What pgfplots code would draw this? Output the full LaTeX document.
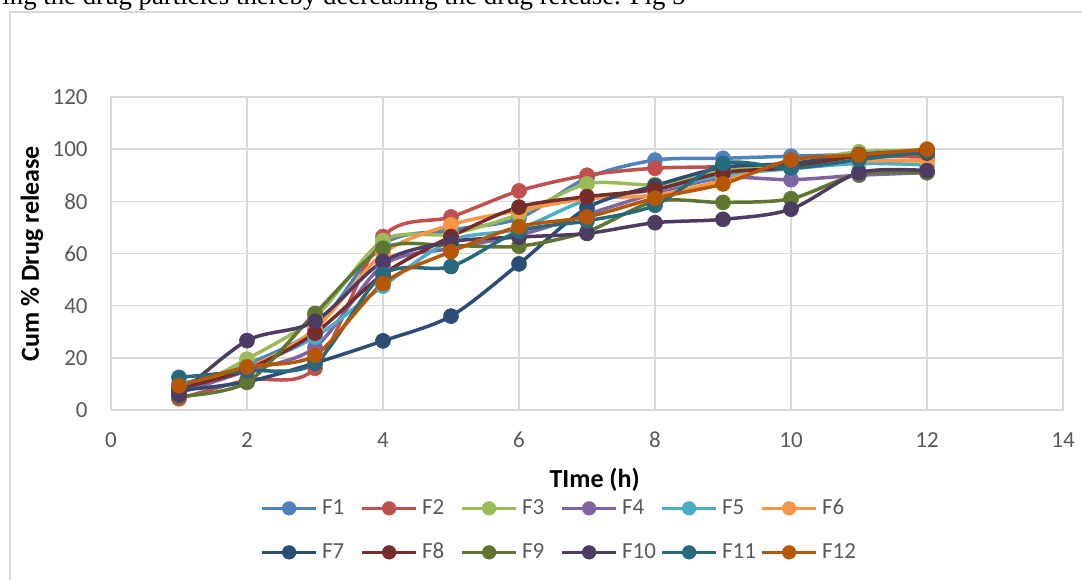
\documentclass[border=0pt]{standalone}
\usepackage{fontspec}
\setmainfont{Carlito}
\newfontfamily\timesfont{Liberation Serif}
\usepackage{pgfplots}
\usepackage{pgfplotstable}
\pgfplotsset{compat=1.18}
\definecolor{c1}{HTML}{4F81BD}
\definecolor{c2}{HTML}{C0504D}
\definecolor{c3}{HTML}{9BBB59}
\definecolor{c4}{HTML}{8064A2}
\definecolor{c5}{HTML}{4BACC6}
\definecolor{c6}{HTML}{F79646}
\definecolor{c7}{HTML}{2C4D75}
\definecolor{c8}{HTML}{772C2A}
\definecolor{c9}{HTML}{5F7530}
\definecolor{c10}{HTML}{4D3B62}
\definecolor{c11}{HTML}{276A7C}
\definecolor{c12}{HTML}{B65708}
\definecolor{gridc}{HTML}{D9D9D9}
\definecolor{txtc}{HTML}{595959}

\pgfplotstableread{
x F1 F2 F3 F4 F5 F6 F7 F8 F9 F10 F11 F12
1 7.0 4.3 6.0 6.5 10.0 8.5 7.5 8.3 5.2 5.8 12.5 9.3
2 17.5 11.5 19.5 15.0 16.5 16.0 10.8 15.5 10.6 26.6 15.0 16.5
3 31.0 16.0 35.5 24.0 28.0 31.0 18.0 29.5 37.0 34.0 18.0 21.0
4 63.5 66.5 65.0 55.5 47.5 60.0 26.5 52.0 62.0 57.0 52.0 48.5
5 69.0 74.0 67.5 62.0 65.0 71.0 36.0 66.5 63.0 64.5 55.0 60.7
6 73.5 84.0 75.0 67.0 69.5 76.5 56.0 77.8 62.8 66.3 68.5 70.3
7 89.0 90.0 86.7 75.0 80.5 81.0 77.5 81.8 68.4 67.7 72.5 74.0
8 95.8 92.7 86.5 83.0 84.4 82.4 86.0 84.6 80.0 71.8 78.5 81.2
9 96.5 93.3 91.5 89.0 90.0 88.0 93.0 91.0 79.6 73.1 94.5 86.7
10 97.3 94.5 95.0 88.3 92.5 94.5 94.5 93.0 81.0 77.0 92.7 95.9
11 98.0 97.0 99.0 90.0 94.5 95.5 98.0 97.5 90.5 91.0 96.0 97.8
12 98.5 97.0 99.5 91.0 94.0 95.5 99.5 98.5 91.0 91.8 99.0 100.0
}\datatable

\newcommand{\lentry}[1]{\makebox[21.25pt][l]{\hspace{2.1pt}#1}}

\begin{document}
\begin{tikzpicture}
\path[use as bounding box] (0pt,0pt) rectangle (541pt,289.5pt);
\draw[gridc, line width=0.75pt] (5pt,-10pt) rectangle (560pt,283.5pt);
\node[anchor=base west, inner sep=0pt, font=\timesfont\fontsize{13.4pt}{15pt}\selectfont] at (1pt,287pt)
  {ing the drug particles thereby decreasing the drug release. Fig 5};
\begin{axis}[
  at={(55.5pt,84.5pt)}, anchor=south west,
  scale only axis, width=476pt, height=156.5pt,
  xmin=0, xmax=14, ymin=0, ymax=120,
  xtick={0,2,...,14}, ytick={0,20,...,120},
  grid=major,
  major grid style={gridc, line width=0.75pt},
  axis line style={gridc, line width=0.75pt},
  tick style={draw=none},
  /pgf/number format/assume math mode=true,
  tick label style={font=\fontsize{11.5pt}{13pt}\selectfont, text=txtc, inner sep=0pt},
  xticklabel style={anchor=center, yshift=-15pt},
  yticklabel style={anchor=east, xshift=-11.5pt},
  xlabel={TIme (h)},
  ylabel={Cum \% Drug release},
  every axis x label/.style={at={(axis description cs:0.508,-0.2236)}, anchor=center, font=\bfseries\fontsize{13pt}{15pt}\selectfont, text=black},
  every axis y label/.style={at={(axis description cs:-0.083,0.5)}, rotate=90, anchor=center, font=\bfseries\fontsize{13pt}{15pt}\selectfont, text=black},
  every axis plot/.append style={line width=1.75pt, mark=*, mark size=3.75pt, smooth, mark options={solid, line width=0.3pt}},
  legend columns=6,
  legend style={at={(axis description cs:0.1565,-0.281)}, anchor=north west, draw=none, fill=none,
    inner sep=0pt, row sep=12pt, font=\fontsize{11.5pt}{13pt}\selectfont, text=txtc,
    nodes={inner sep=0pt, text height=8pt, text depth=2pt},
    /tikz/every even column/.append style={column sep=0pt},
    /tikz/every odd column/.append style={column sep=0pt}},
  legend cell align=left,
  legend image code/.code={
    \draw[mark repeat=2, mark phase=2, mark size=3.4pt, #1] plot coordinates {(0pt,0pt) (13.5pt,0pt) (27pt,0pt)};
  },
]
\addplot[c1] table[x=x,y=F1]{\datatable}; \addlegendentry{\lentry{F1}}
\addplot[c2] table[x=x,y=F2]{\datatable}; \addlegendentry{\lentry{F2}}
\addplot[c3] table[x=x,y=F3]{\datatable}; \addlegendentry{\lentry{F3}}
\addplot[c4] table[x=x,y=F4]{\datatable}; \addlegendentry{\lentry{F4}}
\addplot[c5] table[x=x,y=F5]{\datatable}; \addlegendentry{\lentry{F5}}
\addplot[c6] table[x=x,y=F6]{\datatable}; \addlegendentry{\lentry{F6}}
\addplot[c7] table[x=x,y=F7]{\datatable}; \addlegendentry{\lentry{F7}}
\addplot[c8] table[x=x,y=F8]{\datatable}; \addlegendentry{\lentry{F8}}
\addplot[c9] table[x=x,y=F9]{\datatable}; \addlegendentry{\lentry{F9}}
\addplot[c10] table[x=x,y=F10]{\datatable}; \addlegendentry{\lentry{F10}}
\addplot[c11] table[x=x,y=F11]{\datatable}; \addlegendentry{\lentry{F11}}
\addplot[c12] table[x=x,y=F12]{\datatable}; \addlegendentry{\lentry{F12}}
\end{axis}
\end{tikzpicture}
\end{document}
